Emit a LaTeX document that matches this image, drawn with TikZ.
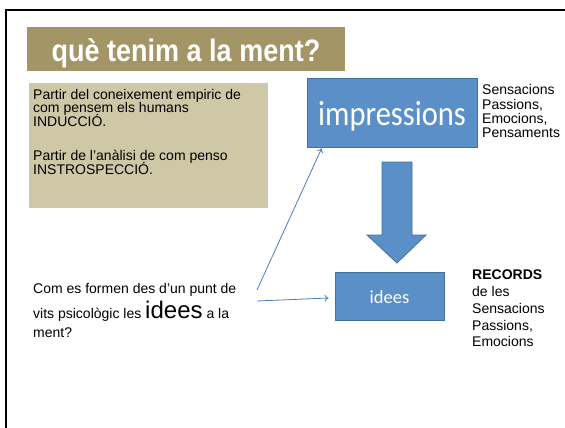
\documentclass[tikz,border=0pt]{standalone}
\usepackage{fontspec}
\setmainfont{Liberation Sans}
\newfontfamily\calibri{Carlito}
\usetikzlibrary{arrows.meta}

\definecolor{titol}{HTML}{A39565}
\definecolor{caixa}{HTML}{CFC8A7}
\definecolor{blau}{HTML}{5B8FC8}
\definecolor{vora}{HTML}{41719C}
\definecolor{linia}{HTML}{4A7EBB}

\begin{document}
\begin{tikzpicture}[x=1pt,y=-1pt,
    txt/.style={anchor=base west,inner sep=0pt,font=\fontsize{14}{14}\selectfont},
    caixablava/.style={draw=vora,fill=blau,text=white,inner sep=0pt,line width=0.8pt,text depth=0pt},
    fletxa/.style={draw=linia,line width=0.8pt,-{To[length=4pt,width=7pt]}}]
          \useasboundingbox (0,0) rectangle (565,428);
          \draw[line width=2pt] (6,428) -- (6,10) -- (565,10);

          \node[fill=titol,minimum width=318pt,minimum height=44pt,inner sep=0pt,text=white,text height=26pt,text depth=0pt,font=\fontsize{27}{27}\selectfont\bfseries] (titol) at (186,49) {\scalebox{1}[1.15]{què tenim a la ment?}};

          \node[fill=caixa,minimum width=239pt,minimum height=125pt,inner sep=0pt] (caixa) at (148.5,145.5) {};
          \node[txt] (p1) at (33,99.5) {Partir del coneixement empiric de};
          \node[txt] (p2) at (33,113) {com pensem els humans};
          \node[txt] (p3) at (33,126.5) {INDUCCIÓ.};
          \node[txt] (p4) at (33,160) {Partir de l’anàlisi de com penso};
          \node[txt] (p5) at (33,174) {INSTROSPECCIÓ.};

          \node[caixablava,minimum width=170pt,minimum height=69pt,text height=25pt,font=\calibri\fontsize{30.5}{30.5}\selectfont] (imp) at (392,112.5) {\scalebox{1}[1.15]{impressions}};
          \node[txt] (s1) at (482,95) {Sensacions};
          \node[txt] (s2) at (482,109) {Passions,};
          \node[txt] (s3) at (482,123) {Emocions,};
          \node[txt] (s4) at (482,137) {Pensaments};

          \filldraw[fill=blau,draw=vora,line width=0.8pt] (382,162) -- (412,162) -- (412,235) -- (426,235) -- (397,263) -- (367,235) -- (382,235) -- cycle;

          \node[caixablava,minimum width=109pt,minimum height=48pt,text height=14pt,font=\calibri\fontsize{18.5}{18.5}\selectfont] (idees) at (389.5,296) {idees};
          \node[txt,font=\fontsize{14}{14}\selectfont\bfseries] (r1) at (472,279) {RECORDS};
          \node[txt] (r2) at (472,296.5) {de les};
          \node[txt] (r3) at (472,313) {Sensacions};
          \node[txt] (r4) at (472,330) {Passions,};
          \node[txt] (r5) at (472,346.5) {Emocions};

          \node[txt] (q1) at (33,293) {Com es formen des d’un punt de};
          \node[txt] (q2) at (33,318) {vits psicològic les {\fontsize{24}{24}\selectfont idees} a la};
          \node[txt] (q3) at (33,337) {ment?};

          \coordinate (sortida1) at (257,290);
          \coordinate (sortida2) at (257,301);
          \draw[fletxa] (sortida1) -- ([xshift=15pt,yshift=-1pt]imp.south west);
          \draw[fletxa] (sortida2) -- ([xshift=-6pt,yshift=-2pt]idees.west);
        \end{tikzpicture}
\end{document}
